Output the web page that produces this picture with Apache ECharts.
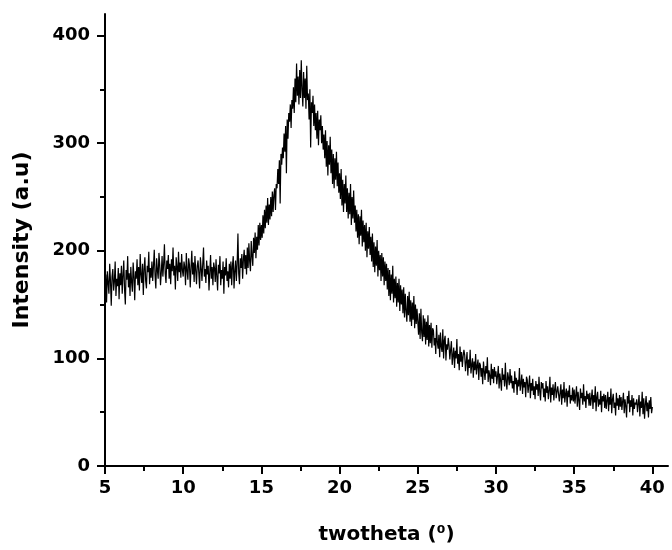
<!DOCTYPE html>
<html>
<head>
<meta charset="utf-8">
<script src="https://cdn.jsdelivr.net/npm/echarts@6/dist/echarts.min.js"></script>
<style>
html,body{margin:0;padding:0;background:#fff;}
#chart{width:672px;height:550px;}
</style>
</head>
<body>
<div id="chart"></div>
<script>
// two-theta axis: start and step of the recorded points
var xStart = 5.0;
var xStep = 0.05;
// intensity values, 20 points per degree (5.00 .. 40.00)
var intensity = [
165,178,152,181,170,160,188,172,149,176,183,163,171,190,158,174,167,184,155,179,
168,186,160,177,191,164,150,182,173,195,166,179,158,185,171,162,189,176,154,181,
174,192,168,185,163,197,178,170,188,159,183,194,172,165,186,180,199,169,184,175,
190,172,186,201,177,165,193,182,174,198,187,168,180,195,176,188,206,179,170,191,
183,196,174,188,169,192,181,203,177,186,164,194,185,172,199,180,189,175,197,182,
176,190,185,168,198,181,173,193,187,166,184,200,178,189,171,195,182,169,186,191,
179,165,194,184,172,188,203,176,183,170,191,178,186,163,180,196,174,185,168,189,
184,171,192,176,163,187,179,195,168,182,174,190,160,185,177,193,172,181,166,188,
174,190,168,186,195,165,181,191,172,188,216,179,169,193,184,197,174,192,201,183,
196,178,203,184,207,190,181,209,195,186,212,198,217,193,213,201,224,205,226,210,
224,212,233,216,238,221,242,226,249,224,243,229,250,232,255,236,252,258,238,262,
258,276,262,284,244,290,280,296,286,309,292,316,272,322,304,328,320,336,314,340,
332,352,328,360,338,374,344,362,336,368,342,377,350,334,366,342,360,332,372,340,
346,322,350,296,338,328,344,316,336,312,328,304,330,298,322,312,326,300,316,294,
308,286,312,278,302,270,298,280,306,272,294,262,290,258,286,266,292,260,282,254,
272,248,276,242,266,236,262,244,270,236,258,230,254,234,262,224,250,230,256,226,
242,218,238,212,234,206,232,214,238,204,228,208,224,200,226,194,218,202,222,196,
213,190,216,185,208,180,204,186,210,176,200,182,196,172,198,176,194,168,190,172,
188,164,184,158,182,154,178,160,186,152,174,156,176,148,170,152,174,144,168,150,
164,142,166,138,160,144,134,158,140,162,134,154,130,152,136,158,128,150,132,146,
145,122,142,118,146,124,116,140,120,137,113,134,117,140,111,131,114,133,110,128,
126,112,119,104,131,115,109,122,101,124,111,106,127,100,117,121,98,113,108,119,
112,99,108,116,94,103,110,91,107,100,118,95,104,89,111,97,106,92,102,108,
103,88,97,106,84,99,91,108,86,94,100,82,97,89,104,85,93,99,80,96,
94,83,91,76,97,88,80,93,86,101,78,89,84,75,95,81,90,77,92,83,
88,76,84,93,72,86,79,70,91,80,85,74,96,78,71,87,82,75,90,77,
84,72,79,68,88,76,82,66,80,74,91,70,77,85,67,81,73,78,64,83,
80,68,75,84,63,77,70,81,66,74,62,79,71,76,65,83,69,61,78,72,
77,64,72,60,79,68,74,62,70,83,59,73,66,76,61,71,78,63,69,74,
73,60,68,76,57,71,63,78,59,67,72,55,70,64,75,58,66,61,73,60,
71,58,66,74,55,69,61,52,72,63,68,57,76,60,65,54,70,62,67,56,
68,56,63,71,53,66,59,74,51,64,69,55,62,57,70,50,65,60,67,54,
66,53,61,69,51,64,57,72,49,62,67,54,59,47,68,56,63,52,66,55,
64,52,60,68,49,62,56,45,65,58,70,50,61,55,66,47,63,53,59,57,
62,50,58,66,46,60,54,69,48,63,44,57,65,51,59,45,61,53,64,49,
55
];
// tick values
var xMajorTicks = [5, 10, 15, 20, 25, 30, 35, 40];
var xMinorTicks = [7.5, 12.5, 17.5, 22.5, 27.5, 32.5, 37.5];
var yMajorTicks = [0, 100, 200, 300, 400];
var yMinorTicks = [50, 150, 250, 350];
var xTitle = 'twotheta (\u2070)';
var yTitle = 'Intensity (a.u)';

var points = intensity.map(function (v, i) {
  return [Math.round((xStart + i * xStep) * 100) / 100, v];
});

var FONT = '"DejaVu Sans", "Liberation Sans", Arial, sans-serif';
var labelStyle = { color: '#000', fontFamily: FONT, fontWeight: 'bold', fontSize: 18 };
var xNameStyle = { color: '#000', fontFamily: FONT, fontWeight: 'bold', fontSize: 20 };
var yNameStyle = { color: '#000', fontFamily: FONT, fontWeight: 'bold', fontSize: 22 };
var lineStyle = { color: '#000', width: 2 };

var chart = echarts.init(document.getElementById('chart'), null, { renderer: 'canvas' });
chart.setOption({
  animation: false,
  backgroundColor: '#fff',
  grid: { left: 105, right: 4, top: 14, bottom: 84, containLabel: false },
  xAxis: [{
    type: 'value', min: 5, max: 41, interval: 5,
    axisLine: { show: true, onZero: false, lineStyle: lineStyle },
    axisTick: { show: true, inside: false, length: 8, lineStyle: lineStyle, customValues: xMajorTicks },
    axisLabel: Object.assign({ margin: 13, customValues: xMajorTicks }, labelStyle),
    splitLine: { show: false },
    name: xTitle, nameLocation: 'middle', nameGap: 59, nameTextStyle: xNameStyle
  }, {
    type: 'value', min: 5, max: 41, position: 'bottom',
    axisLine: { show: false },
    axisTick: { show: true, inside: false, length: 5, lineStyle: lineStyle, customValues: xMinorTicks },
    axisLabel: { show: false },
    splitLine: { show: false }
  }],
  yAxis: [{
    type: 'value', min: 0, max: 420, interval: 100,
    axisLine: { show: true, onZero: false, lineStyle: lineStyle },
    axisTick: { show: true, inside: false, length: 8, lineStyle: lineStyle, customValues: yMajorTicks },
    axisLabel: Object.assign({ margin: 15, customValues: yMajorTicks }, labelStyle),
    splitLine: { show: false },
    name: yTitle, nameLocation: 'middle', nameGap: 72, nameRotate: 90, nameTextStyle: yNameStyle
  }, {
    type: 'value', min: 0, max: 420, position: 'left',
    axisLine: { show: false },
    axisTick: { show: true, inside: false, length: 5, lineStyle: lineStyle, customValues: yMinorTicks },
    axisLabel: { show: false },
    splitLine: { show: false }
  }],
  series: [{
    type: 'line',
    xAxisIndex: 0, yAxisIndex: 0,
    data: points,
    showSymbol: false,
    symbol: 'none',
    sampling: null,
    lineStyle: { color: '#000', width: 1.2 },
    silent: true
  }]
});
</script>
</body>
</html>
